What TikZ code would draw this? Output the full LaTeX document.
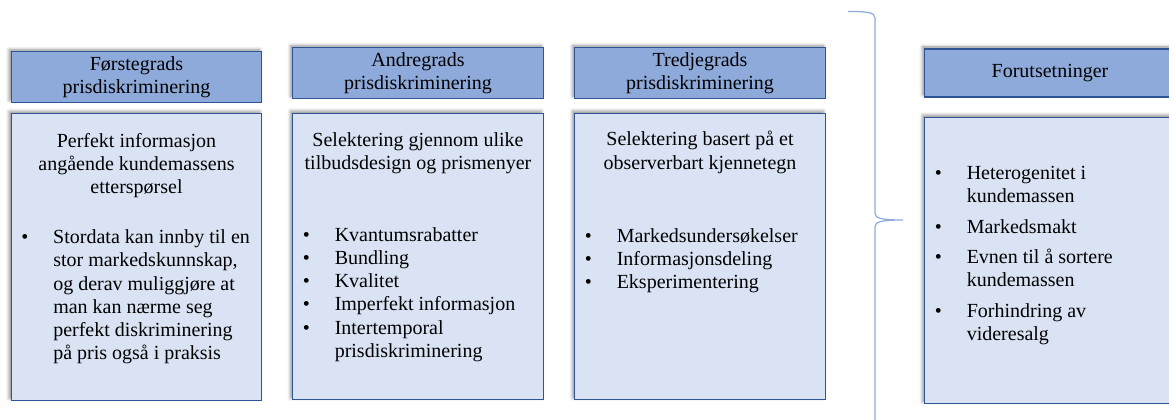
\documentclass[tikz,border=0pt]{standalone}
\usepackage{fontspec}
\setmainfont{Liberation Serif}
\usetikzlibrary{shadows.blur}
\definecolor{headfill}{HTML}{8EAADB}
\definecolor{bodyfill}{HTML}{DAE3F3}
\definecolor{edge}{HTML}{2F5597}
\definecolor{bracecol}{HTML}{8EAADB}
\newcommand{\bul}{\makebox[24pt][l]{\textbullet}}
\newcommand{\cont}{\hspace*{24pt}}
\begin{document}
\begin{tikzpicture}[x=0.75pt,y=0.75pt,
    font=\fontsize{15}{17.4}\selectfont,
    box/.style={draw=edge,line width=0.8pt,minimum width=188pt,
      blur shadow={shadow xshift=-1.5pt,shadow yshift=1.5pt,
        shadow blur radius=2.5pt,shadow opacity=45}},
    head/.style={box,fill=headfill,minimum height=36pt,align=center},
    body/.style={box,fill=bodyfill,minimum height=215pt},
    lead/.style={align=center,inner sep=0pt},
    items/.style={align=left,anchor=west,inner sep=0pt}]
  \useasboundingbox (0,0) rectangle (1169,419);
  % headers
  \path
    (136.5,342) node[head] (h1) {Førstegrads\\prisdiskriminering}
    (418,346) node[head] (h2) {Andregrads\\prisdiskriminering}
    (700,346) node[head] (h3) {Tredjegrads\\prisdiskriminering}
    (1050,346) node[head] (h4) {Forutsetninger};
  % bodies
  \path
    (136.5,162) node[body] (b1) {}
    (418,162.5) node[body] (b2) {}
    (700,162.5) node[body] (b3) {}
    (1050,158.5) node[body] (b4) {};
  % texts
  \path
    (136.5,253.5) node[lead] (t1) {Perfekt informasjon\\angående kundemassens\\etterspørsel}
    (418,265.5) node[lead] (t2) {Selektering gjennom ulike\\tilbudsdesign og prismenyer}
    (700,266.5) node[lead] (t3) {Selektering basert på et\\observerbart kjennetegn};
  \path
    (21,122) node[items] (l1) {\bul Stordata kan innby til en\\
      \cont stor markedskunnskap,\\
      \cont og derav muliggjøre at\\
      \cont man kan nærme seg\\
      \cont perfekt diskriminering\\
      \cont på pris også i praksis}
    (302.5,124.5) node[items] (l2) {\bul Kvantumsrabatter\\
      \bul Bundling\\
      \bul Kvalitet\\
      \bul Imperfekt informasjon\\
      \bul Intertemporal\\
      \cont prisdiskriminering}
    (584.5,158.5) node[items] (l3) {\bul Markedsundersøkelser\\
      \bul Informasjonsdeling\\
      \bul Eksperimentering}
    (934.5,163.5) node[items] (l4) {\bul Heterogenitet i\\
      \cont kundemassen\\[5.5pt]
      \bul Markedsmakt\\[5.5pt]
      \bul Evnen til å sortere\\
      \cont kundemassen\\[5.5pt]
      \bul Forhindring av\\
      \cont videresalg};
  % brace
  \draw[bracecol,line width=0.9pt]
    (848,407.5) .. controls (866,407.5) and (875,407) .. (875,401)
    -- (875,206) .. controls (875,201) and (880,199) .. (903,199)
    .. controls (880,199) and (875,197) .. (875,192) -- (875,-2);
\end{tikzpicture}
\end{document}
